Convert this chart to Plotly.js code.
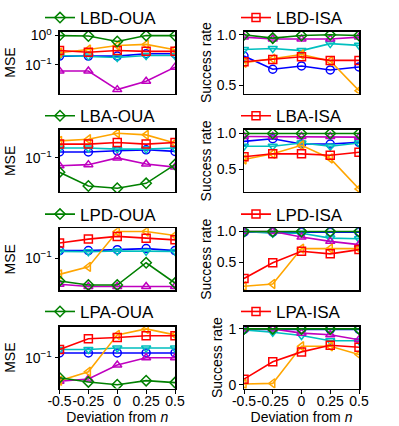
<!DOCTYPE html>
<html>
<head>
<meta charset="utf-8">
<script src="https://cdn.plot.ly/plotly-3.0.1.min.js"></script>
<style>
  html, body { margin: 0; padding: 0; background: #fff; }
  #chart { width: 399px; height: 426px; }
</style>
</head>
<body>
<div id="chart"></div>
<script>
// x positions (deviation from n) and their tick labels
const deviations = [-0.5, -0.25, 0, 0.25, 0.5];
const devTickLabels = ['-0.5', '-0.25', '0', '0.25', '0.5'];

// panel names, one row per dataset
const mseNames = ['LBD-OUA', 'LBA-OUA', 'LPD-OUA', 'LPA-OUA'];
const srNames = ['LBD-ISA', 'LBA-ISA', 'LPD-ISA', 'LPA-ISA'];

// MSE (left column), one inner array per row
const mseGreen = [
  [1.0, 0.97, 0.63, 1.0, 1.0],
  [0.0575, 0.0336, 0.0308, 0.0373, 0.0773],
  [0.041, 0.035, 0.035, 0.0835, 0.0377],
  [0.046, 0.039, 0.035, 0.041, 0.038]
];
const mseRed = [
  [0.31, 0.27, 0.31, 0.29, 0.29],
  [0.171, 0.171, 0.182, 0.171, 0.182],
  [0.18, 0.21, 0.233, 0.218, 0.204],
  [0.138, 0.21, 0.221, 0.236, 0.236]
];
const mseOrange = [
  [0.26, 0.335, 0.46, 0.50, 0.33],
  [0.194, 0.207, 0.261, 0.245, 0.178],
  [0.053, 0.071, 0.282, 0.282, 0.242],
  [0.041, 0.058, 0.245, 0.309, 0.245]
];
const mseMagenta = [
  [0.062, 0.062, 0.0144, 0.0276, 0.084],
  [0.074, 0.077, 0.1, 0.079, 0.070],
  [0.036, 0.033, 0.033, 0.033, 0.033],
  [0.040, 0.0437, 0.0756, 0.1, 0.1]
];
const mseBlue = [
  [0.20, 0.20, 0.20, 0.24, 0.24],
  [0.126, 0.126, 0.132, 0.137, 0.129],
  [0.134, 0.134, 0.139, 0.145, 0.134],
  [0.121, 0.121, 0.121, 0.121, 0.121]
];
const mseCyan = [
  [0.21, 0.20, 0.18, 0.21, 0.21],
  [0.147, 0.147, 0.141, 0.141, 0.147],
  [0.13, 0.128, 0.132, 0.13, 0.13],
  [0.138, 0.138, 0.147, 0.147, 0.147]
];

// Success rate (right column)
const srGreen = [
  [1.0, 0.967, 0.993, 1.0, 0.993],
  [0.995, 0.995, 0.995, 0.995, 0.995],
  [1.0, 1.0, 1.0, 1.0, 1.0],
  [1.0, 1.0, 1.0, 1.0, 1.0]
];
const srRed = [
  [0.732, 0.755, 0.781, 0.745, 0.745],
  [0.673, 0.714, 0.714, 0.695, 0.736],
  [0.231, 0.489, 0.677, 0.634, 0.704],
  [0.10, 0.412, 0.588, 0.706, 0.671]
];
const srOrange = [
  [0.722, 0.761, 0.804, 0.739, 0.444],
  [0.636, 0.714, 0.832, 0.65, 0.227],
  [0.102, 0.14, 0.72, 0.72, 0.72],
  [0.012, 0.024, 0.688, 0.688, 0.541]
];
const srMagenta = [
  [0.977, 0.958, 0.958, 0.958, 0.977],
  [0.955, 0.955, 0.955, 0.955, 0.945],
  [1.0, 1.0, 0.909, 0.839, 0.785],
  [1.0, 1.0, 0.924, 0.894, 0.806]
];
const srBlue = [
  [0.788, 0.657, 0.69, 0.65, 0.68],
  [0.886, 0.923, 0.85, 0.85, 0.873],
  [0.99, 0.99, 0.99, 0.99, 0.99],
  [0.99, 0.99, 0.99, 0.99, 0.99]
];
const srCyan = [
  [0.853, 0.863, 0.843, 0.912, 0.895],
  [0.818, 0.818, 0.864, 0.818, 0.864],
  [1.0, 0.973, 0.973, 0.892, 0.882],
  [0.982, 0.941, 0.882, 0.788, 0.788]
];

// drawing order: first is at the bottom
const series = [
  { color: '#0000ff', symbol: 'circle-open', mse: mseBlue, sr: srBlue },
  { color: '#00bfbf', symbol: 'triangle-down-open', mse: mseCyan, sr: srCyan },
  { color: '#bf00bf', symbol: 'triangle-up-open', mse: mseMagenta, sr: srMagenta },
  { color: '#ffa500', symbol: 'triangle-left-open', mse: mseOrange, sr: srOrange },
  { color: '#ff0000', symbol: 'square-open', mse: mseRed, sr: srRed, legendCol: 1 },
  { color: '#008000', symbol: 'diamond-open', mse: mseGreen, sr: srGreen, legendCol: 0 }
];

const W = 399, H = 426;
const FONT = 'Liberation Sans, Arial, sans-serif';

// pixel boxes of the plot areas
const colX = [[59.5, 175], [244, 359]];
const rowY = [[25, 88], [125, 188], [225, 288], [325, 388]];
const legendY = [11, 111, 211, 310];
const legendX = [40, 236];

const mseRanges = [[-1.976, 0.136], [-1.573, -0.528], [-1.545, -0.495], [-1.522, -0.472]];
const srRanges = [[0.415, 1.032], [0.186, 1.045], [0.037, 1.053], [-0.07, 1.04]];

const data = [];
const layout = {
  width: W,
  height: H,
  margin: { l: 0, r: 0, t: 0, b: 0 },
  paper_bgcolor: '#fff',
  plot_bgcolor: '#fff',
  font: { family: FONT, color: '#000', size: 14 },
  showlegend: true
};

const baseAxis = {
  showline: true,
  mirror: true,
  linecolor: '#000',
  linewidth: 1.5,
  ticks: 'outside',
  ticklen: 3.5,
  tickwidth: 1,
  tickcolor: '#000',
  showgrid: false,
  zeroline: false,
  tickangle: 0,
  tickfont: { family: FONT, size: 14, color: '#000' }
};

for (let row = 0; row < 4; row += 1) {
  for (let col = 0; col < 2; col += 1) {
    const idx = row * 2 + col + 1;
    const sfx = idx > 1 ? String(idx) : '';
    const legendId = 'legend' + sfx;

    series.forEach(s => {
      const vals = col === 0 ? s.mse[row] : s.sr[row];
      const showIt = s.legendCol === col;
      data.push({
        x: deviations,
        y: vals,
        xaxis: 'x' + sfx,
        yaxis: 'y' + sfx,
        type: 'scatter',
        mode: 'lines+markers',
        name: showIt ? (col === 0 ? mseNames[row] : srNames[row]) : '',
        showlegend: showIt,
        legend: legendId,
        line: { color: s.color, width: 1.6 },
        marker: { symbol: s.symbol, size: 8, color: s.color, line: { width: 1.5, color: s.color } }
      });
    });

    const xa = Object.assign({}, baseAxis, {
      domain: [colX[col][0] / W, colX[col][1] / W],
      anchor: 'y' + sfx,
      range: [-0.5, 0.5],
      tickvals: deviations,
      ticktext: devTickLabels,
      showticklabels: row === 3,
      ticklabelstandoff: -4
    });
    if (row === 3) {
      xa.title = { text: 'Deviation from <i>n</i>', font: { family: FONT, size: 14 }, standoff: 4 };
    } else {
      xa.ticks = '';
    }

    const ya = Object.assign({}, baseAxis, {
      domain: [1 - rowY[row][1] / H, 1 - rowY[row][0] / H],
      anchor: 'x' + sfx
    });
    if (col === 0) {
      ya.type = 'log';
      ya.range = mseRanges[row];
      ya.tickvals = [0.1, 1];
      ya.ticktext = ['10<sup>\u22121</sup>', '10<sup>0</sup>'];
      ya.title = { text: 'MSE', font: { family: FONT, size: 14 }, standoff: 6 };
    } else {
      ya.range = srRanges[row];
      ya.tickvals = row === 3 ? [0, 1] : [0.5, 1.0];
      ya.ticktext = row === 3 ? ['0', '1'] : ['0.5', '1.0'];
      ya.title = { text: 'Success rate', font: { family: FONT, size: 14 }, standoff: 2 };
    }

    layout['xaxis' + sfx] = xa;
    layout['yaxis' + sfx] = ya;
    layout[legendId] = {
      x: legendX[col] / W,
      y: 1 - legendY[row] / H,
      xanchor: 'left',
      yanchor: 'middle',
      bgcolor: 'rgba(0,0,0,0)',
      borderwidth: 0,
      font: { family: FONT, size: 17, color: '#000' }
    };
  }
}

Plotly.newPlot('chart', data, layout, { displayModeBar: false, staticPlot: true });
</script>
</body>
</html>
